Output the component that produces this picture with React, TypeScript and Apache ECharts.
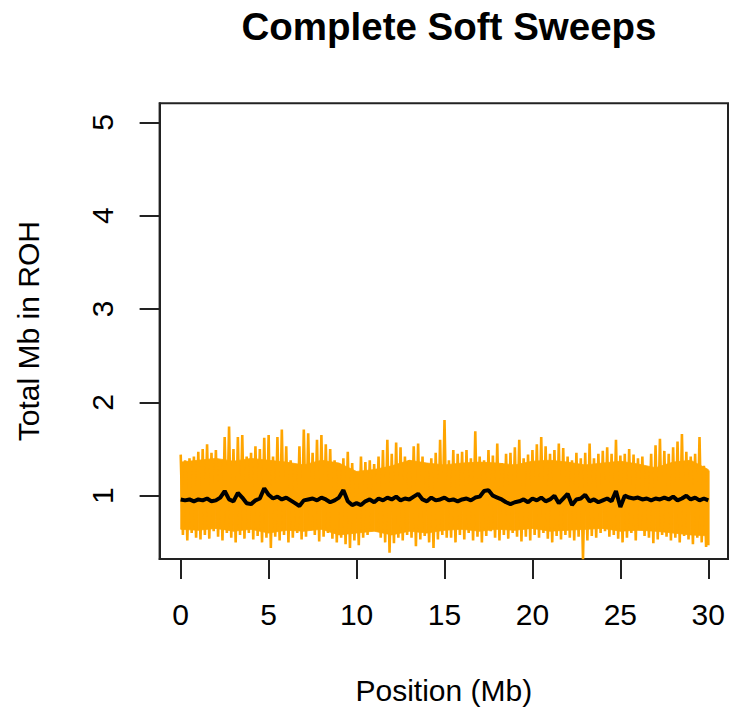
import React, { useEffect, useRef } from "react";
import * as echarts from "echarts";

// Positions (Mb) are on a 0.25 Mb grid from 0 to 30
const STEP = 0.25;

// Upper extremes of the replicate (orange) curves
const upper = [
  1.44, 1.38, 1.40, 1.42, 1.47, 1.50, 1.55, 1.46, 1.49, 1.37, 1.63, 1.74, 1.50, 1.63, 1.65, 1.42, 1.46, 1.53, 1.50, 1.62, 1.65, 1.42, 1.63, 1.71, 1.53, 1.38, 1.30, 1.53, 1.71,
  1.67, 1.46, 1.60, 1.65, 1.55, 1.50, 1.38, 1.31, 1.40, 1.47, 1.35, 1.25, 1.42, 1.36, 1.38, 1.34, 1.42, 1.49, 1.60, 1.45, 1.57, 1.52, 1.42, 1.38, 1.53, 1.56, 1.42, 1.35, 1.40, 1.46, 1.60, 1.81,
  1.38, 1.49, 1.45, 1.47, 1.49, 1.40, 1.69, 1.42, 1.38, 1.49, 1.43, 1.56, 1.35, 1.45, 1.46, 1.52, 1.60, 1.40, 1.44, 1.49, 1.55, 1.63, 1.53, 1.45, 1.49, 1.56, 1.51, 1.42, 1.38, 1.46,
  1.40, 1.46, 1.56, 1.40, 1.45, 1.48, 1.52, 1.45, 1.60, 1.43, 1.45, 1.50, 1.44, 1.40, 1.42, 1.30, 1.45, 1.54, 1.61, 1.48, 1.45, 1.52, 1.58, 1.66, 1.47, 1.42, 1.45, 1.63, 1.32, 1.27,
];

// Lower extremes of the replicate (orange) curves
const lower = [
  0.58, 0.52, 0.60, 0.55, 0.53, 0.58, 0.54, 0.62, 0.56, 0.52, 0.60, 0.55, 0.50, 0.58, 0.54, 0.60, 0.53, 0.57, 0.50, 0.55, 0.44, 0.56, 0.52, 0.58, 0.50, 0.55, 0.60, 0.53, 0.56,
  0.63, 0.58, 0.51, 0.56, 0.60, 0.54, 0.50, 0.55, 0.48, 0.44, 0.52, 0.47, 0.55, 0.58, 0.62, 0.66, 0.55, 0.50, 0.39, 0.49, 0.55, 0.52, 0.58, 0.55, 0.46, 0.53, 0.57, 0.50, 0.44, 0.53, 0.58, 0.55,
  0.55, 0.50, 0.58, 0.53, 0.60, 0.52, 0.56, 0.50, 0.57, 0.62, 0.55, 0.52, 0.58, 0.54, 0.60, 0.56, 0.51, 0.56, 0.52, 0.58, 0.55, 0.60, 0.54, 0.50, 0.57, 0.53, 0.58, 0.55, 0.52, 0.56,
  0.32, 0.52, 0.57, 0.55, 0.60, 0.62, 0.56, 0.58, 0.54, 0.50, 0.55, 0.60, 0.52, 0.63, 0.57, 0.55, 0.49, 0.53, 0.58, 0.56, 0.52, 0.55, 0.50, 0.57, 0.53, 0.48, 0.55, 0.50, 0.45, 0.47,
];

// Edges of the densely covered (solid) part of the orange band, every 1 Mb
const coreX = [0, 1, 2, 3, 4, 5, 6, 7, 8, 9, 10, 11, 12, 13, 14, 15, 16, 17, 18, 19, 20, 21, 22, 23, 24, 25, 26, 27, 28, 29, 30];
const coreTop = [1.36, 1.38, 1.40, 1.37, 1.40, 1.38, 1.36, 1.33, 1.38, 1.35, 1.26, 1.28, 1.32, 1.38, 1.35, 1.33, 1.35, 1.36, 1.35, 1.33, 1.37, 1.38, 1.36, 1.33, 1.35, 1.37, 1.34, 1.30, 1.36, 1.38, 1.28];
const coreBottom = [0.64, 0.63, 0.65, 0.62, 0.64, 0.60, 0.63, 0.62, 0.64, 0.58, 0.60, 0.62, 0.58, 0.62, 0.60, 0.63, 0.64, 0.62, 0.64, 0.63, 0.65, 0.62, 0.63, 0.64, 0.65, 0.62, 0.63, 0.62, 0.60, 0.58, 0.57];

// Mean across replicates (black)
const mean = [
  0.96, 0.95, 0.96, 0.94, 0.96, 0.95, 0.97, 0.94, 0.95, 0.98, 1.05, 0.96, 0.94, 1.03, 0.98, 0.92, 0.91, 0.95, 0.97, 1.08, 1.01, 0.97, 0.99, 0.96, 0.98, 0.95, 0.92, 0.89, 0.95,
  0.96, 0.97, 0.95, 0.98, 0.96, 0.93, 0.95, 0.98, 1.06, 0.94, 0.90, 0.92, 0.90, 0.94, 0.96, 0.93, 0.97, 0.95, 0.98, 0.96, 0.99, 0.95, 0.97, 0.96, 0.99, 1.02, 0.96, 0.94, 0.98, 0.95, 0.96, 0.98,
  0.95, 0.96, 0.94, 0.96, 0.97, 0.95, 0.98, 0.99, 1.05, 1.06, 1.00, 0.98, 0.96, 0.93, 0.91, 0.93, 0.94, 0.96, 0.93, 0.97, 0.95, 0.98, 0.94, 0.96, 1.00, 0.92, 0.97, 1.02, 0.90, 0.96,
  0.97, 1.01, 0.94, 0.96, 0.93, 0.95, 0.97, 0.94, 1.05, 0.88, 1.00, 0.98, 0.97, 0.98, 0.96, 0.97, 0.95, 0.97, 0.96, 0.98, 0.96, 0.99, 0.95, 0.97, 1.00, 0.96, 0.98, 0.95, 0.97, 0.95,
];

const xTicks = [0, 5, 10, 15, 20, 25, 30];
const yTicks = [1, 2, 3, 4, 5];

const FONT = "'Liberation Sans', Arial, Helvetica, sans-serif";
const ORANGE = "#FFA500";

export default function App() {
  const ref = useRef<HTMLDivElement>(null);

  useEffect(() => {
    if (!ref.current) return;
    const chart = echarts.init(ref.current, undefined, { renderer: "svg" });

    const band: number[][] = [];
    upper.forEach((u, i) => {
      const x = i * STEP;
      band.push([x, u]);
      if (i < lower.length) band.push([Math.min(x + STEP / 2, 30), lower[i]]);
    });
    const meanData = mean.map((v, i) => [i * STEP, v]);
    // one polygon segment per pair of neighbouring core positions
    const coreSegments = coreX.slice(0, -1).map((x, i) => [
      x, coreTop[i], coreBottom[i], coreX[i + 1], coreTop[i + 1], coreBottom[i + 1],
    ]);

    chart.setOption({
      animation: false,
      backgroundColor: "#ffffff",
      textStyle: { fontFamily: FONT },
      title: {
        text: "Complete Soft Sweeps",
        left: 444,
        top: 2,
        textAlign: "center",
        textStyle: { fontFamily: FONT, fontSize: 38.5, fontWeight: "bold", color: "#000" },
      },
      grid: {
        left: 159.6,
        right: 1,
        top: 103.3,
        bottom: 154,
        show: true,
        borderColor: "#222",
        borderWidth: 2,
        backgroundColor: "transparent",
      },
      xAxis: {
        type: "value",
        min: -1.2,
        max: 31.12,
        name: "Position (Mb)",
        nameLocation: "middle",
        nameGap: 116,
        nameTextStyle: { fontFamily: FONT, fontSize: 30, color: "#000" },
        splitLine: { show: false },
        axisLine: { show: true, onZero: false, lineStyle: { color: "#222", width: 2 } },
        axisTick: {
          show: true,
          length: 20,
          customValues: xTicks,
          lineStyle: { color: "#222", width: 2 },
        },
        axisLabel: {
          customValues: xTicks,
          margin: 40,
          fontFamily: FONT,
          fontSize: 30,
          color: "#000",
        },
      },
      yAxis: {
        type: "value",
        min: 0.322,
        max: 5.204,
        name: "Total Mb in ROH",
        nameLocation: "middle",
        nameGap: 116,
        nameTextStyle: { fontFamily: FONT, fontSize: 30, color: "#000" },
        splitLine: { show: false },
        axisLine: { show: true, onZero: false, lineStyle: { color: "#222", width: 2 } },
        axisTick: {
          show: true,
          length: 20,
          customValues: yTicks,
          lineStyle: { color: "#222", width: 2 },
        },
        axisLabel: {
          customValues: yTicks,
          rotate: 90,
          margin: 42,
          fontFamily: FONT,
          fontSize: 30,
          color: "#000",
        },
      },
      series: [
        {
          name: "Core",
          type: "custom",
          data: coreSegments,
          silent: true,
          z: 1,
          encode: { x: [0, 3], y: [1, 2, 4, 5] },
          renderItem: (params: any, api: any) => {
            const a = api.coord([api.value(0), api.value(1)]);
            const b = api.coord([api.value(3), api.value(4)]);
            const c = api.coord([api.value(3), api.value(5)]);
            const d = api.coord([api.value(0), api.value(2)]);
            return {
              type: "polygon",
              shape: { points: [a, b, c, d] },
              style: { fill: ORANGE, stroke: ORANGE, lineWidth: 0.8 },
            };
          },
        },
        {
          name: "Replicates",
          type: "line",
          data: band,
          showSymbol: false,
          symbol: "none",
          lineStyle: { color: ORANGE, width: 2.6 },
          z: 2,
        },
        {
          name: "Mean",
          type: "line",
          data: meanData,
          showSymbol: false,
          symbol: "none",
          lineStyle: { color: "#000", width: 4 },
          z: 3,
        },
      ],
    });

    return () => chart.dispose();
  }, []);

  return (
    <div
      ref={ref}
      style={{ position: "fixed", left: 0, top: 0, width: 729, height: 713, background: "#fff" }}
    />
  );
}
